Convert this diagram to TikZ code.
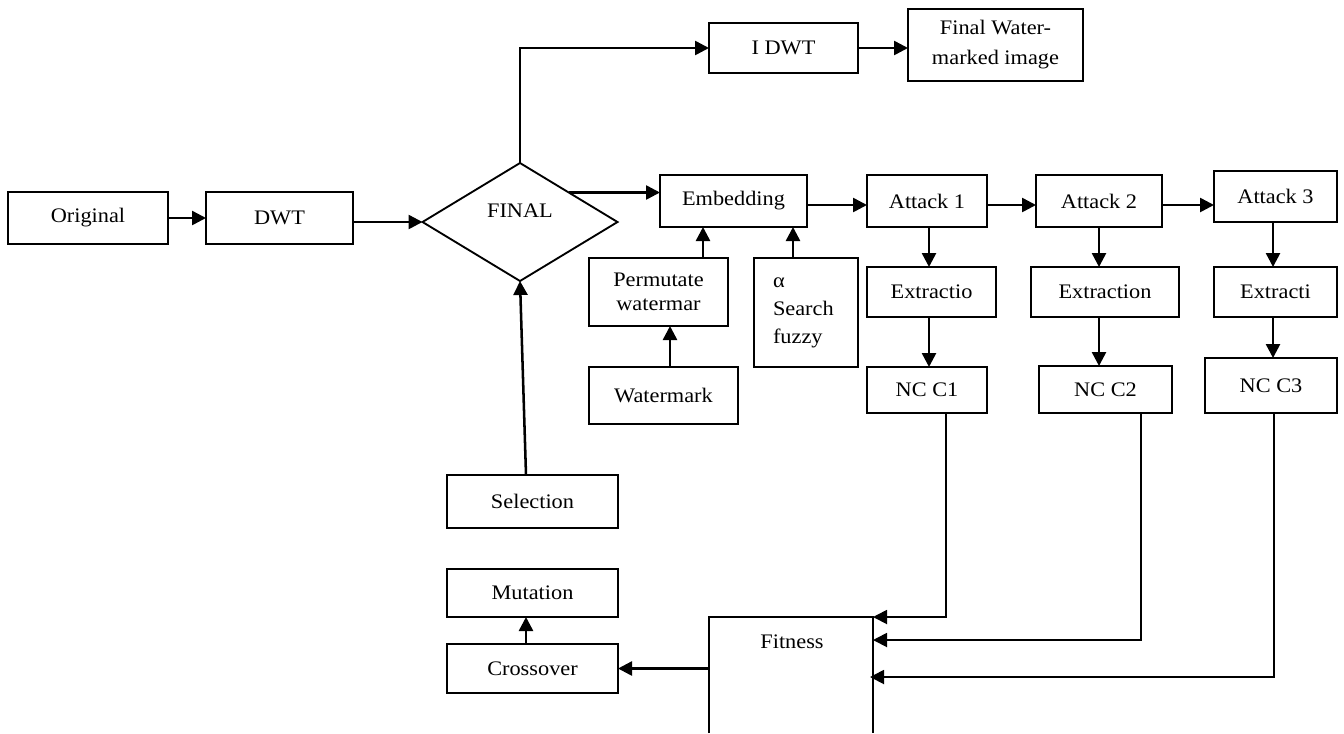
\documentclass[tikz,border=0pt]{standalone}
\usepackage{fontspec}
\setmainfont{Liberation Serif}[FakeStretch=1.08]
\usetikzlibrary{shapes.geometric,arrows.meta,calc}
\begin{document}
\begin{tikzpicture}[x=0.75pt,y=-0.75pt,
  bx/.style 2 args={draw, rectangle, line width=1.4pt, inner sep=0pt, outer sep=0pt,
     minimum width=#1*0.75pt, minimum height=#2*0.75pt, align=center},
  every node/.style={font=\fontsize{15.5}{18}\selectfont},
  arr/.style={line width=1.9pt, -{Triangle[length=10.5pt,width=10.5pt]}},
  thin arr/.style={line width=1.4pt, -{Triangle[length=10.5pt,width=10.5pt]}},
  txt/.style={inner sep=0pt}]
\useasboundingbox (0,0) rectangle (1344,733);

% nodes
\node[bx={160}{52}] (orig) at (88,218) {Original};
\node[bx={147}{52}] (dwt) at (279.5,218) {DWT};
\node[draw, diamond, line width=1.4pt, inner sep=0pt, outer sep=0pt,
      minimum width=195*0.75pt, minimum height=118*0.75pt] (fin) at (520,222) {};
\node[txt] (finlbl) at (520,211) {FINAL};
\node[bx={149}{50}] (idwt) at (783.5,48) {I DWT};
\node[bx={175}{72}, font=\fontsize{15.5}{22.5}\selectfont] (fwm) at (995.5,45) {Final Water-\\marked image};
\node[bx={147}{52}] (emb) at (733.5,201) {Embedding};
\node[bx={139}{68}] (perm) at (658.5,292) {Permutate\\watermar};
\node[bx={104}{109}, align=left, text width=66*0.75pt, font=\fontsize{15.5}{21}\selectfont] (alpha) at (806,312.5) {α\\Search\\fuzzy};
\node[bx={149}{57}] (wm) at (663.5,395.5) {Watermark};
\node[bx={120}{52}] (att1) at (927,201) {Attack 1};
\node[bx={126}{52}] (att2) at (1099,201) {Attack 2};
\node[bx={123}{51}] (att3) at (1275.5,196.5) {Attack 3};
\node[bx={129}{50}] (ex1) at (931.5,292) {Extractio};
\node[bx={148}{50}] (ex2) at (1105,292) {Extraction};
\node[bx={123}{50}] (ex3) at (1275.5,292) {Extracti};
\node[bx={120}{46}] (nc1) at (927,390) {NC C1};
\node[bx={133}{47}] (nc2) at (1105.5,389.5) {NC C2};
\node[bx={132}{55}] (nc3) at (1271,385.5) {NC C3};
\node[bx={171}{53}] (sel) at (532.5,501.5) {Selection};
\node[bx={171}{48}] (mut) at (532.5,593) {Mutation};
\node[bx={171}{49}] (cross) at (532.5,668.5) {Crossover};
\node[inner sep=0pt, outer sep=0pt, minimum width=164*0.75pt, minimum height=116*0.75pt] (fit) at (791,675) {};
\node[txt] (fitlbl) at (792,642) {Fitness};
\draw[line width=1.4pt] (fit.south west) -- (fit.north west) -- (fit.north east) -- (fit.south east);

% connectors
\draw[arr] (orig.east) -- (dwt.west);
\draw[arr] (dwt.east |- fin.west) -- (fin.west);
\draw[arr] (fin.north) |- (idwt.west);
\draw[arr] (idwt.east) -- (idwt.east -| fwm.west);
\draw[arr] (fin.north east) -- (fin.north east -| emb.west);
\draw[arr] ([yshift=-4*0.75pt]emb.east) -- ([yshift=-4*0.75pt]emb.east -| att1.west);
\draw[arr] ([yshift=-4*0.75pt]att1.east) -- ([yshift=-4*0.75pt]att1.east -| att2.west);
\draw[arr] ([yshift=-4*0.75pt]att2.east) -- ([yshift=-4*0.75pt]att2.east -| att3.west);
\draw[arr] ($(perm.north)+(44.5,0)$) coordinate (p1) -- (p1 |- emb.south);
\draw[arr] ($(alpha.north)+(-13,0)$) coordinate (a1) -- (a1 |- emb.south);
\draw[arr] ($(wm.north)+(6.5,0)$) coordinate (w1) -- (w1 |- perm.south);
\draw[arr] ($(att1.south)+(2,0)$) coordinate (t1) -- (t1 |- ex1.north);
\draw[arr] (t1 |- ex1.south) -- (t1 |- nc1.north);
\draw[arr] (att2.south) -- (att2.south |- ex2.north);
\draw[arr] (att2.south |- ex2.south) -- (att2.south |- nc2.north);
\draw[arr] ($(att3.south)+(-2.5,0)$) coordinate (t3) -- (t3 |- ex3.north);
\draw[arr] (t3 |- ex3.south) -- (t3 |- nc3.north);
\draw[thin arr] ($(nc1.south)+(19,0)$) |- (fit.north east);
\draw[thin arr] ($(nc2.south)+(35.5,0)$) |- ($(fit.north east)+(0,23)$);
\draw[thin arr] ($(nc3.south)+(3,0)$) |- ($(fit.north east)+(-3,60)$);
\draw[arr] (fit.west |- cross.east) -- (cross.east);
\draw[arr] ($(cross.north)+(-6.5,0)$) coordinate (c1) -- (c1 |- mut.south);
\draw[arr] ($(sel.north)+(-6.5,0)$) -- (fin.south);
\end{tikzpicture}
\end{document}
